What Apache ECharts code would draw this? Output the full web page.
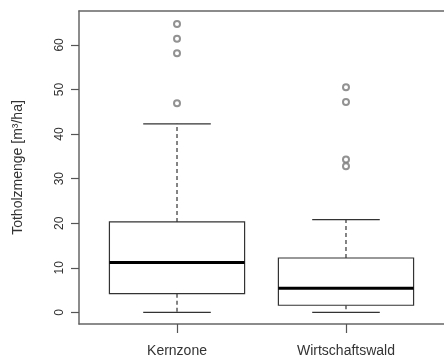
<!DOCTYPE html>
<html>
<head>
<meta charset="utf-8">
<script src="https://cdn.jsdelivr.net/npm/echarts@6/dist/echarts.min.js"></script>
<style>html,body{margin:0;padding:0;background:#fff}#c{width:444px;height:359px}</style>
</head>
<body>
<div id="c"></div>
<script>
const categories = ['Kernzone', 'Wirtschaftswald'];
const whiskerLow = [0, 0];
const q1 = [4.2, 1.6];
const median = [11.2, 5.4];
const q3 = [20.3, 12.2];
const whiskerHigh = [42.3, 20.8];
const outliers = [[64.7, 61.4, 58.1, 46.9], [50.5, 47.2, 34.3, 32.8]];
const yTicks = [0, 10, 20, 30, 40, 50, 60];
const xTicks = [1, 2];
const yName = 'Totholzmenge [m³/ha]';

const boxData = categories.map((c, i) => [i + 1, whiskerLow[i], q1[i], median[i], q3[i], whiskerHigh[i]]);
const outData = [];
outliers.forEach((arr, i) => arr.forEach(v => outData.push([i + 1, v])));

const lineCol = '#333';
function renderBox(params, api) {
  const x = api.value(0);
  const low = api.coord([x, api.value(1)]);
  const pq1 = api.coord([x, api.value(2)]);
  const pmed = api.coord([x, api.value(3)]);
  const pq3 = api.coord([x, api.value(4)]);
  const high = api.coord([x, api.value(5)]);
  const hw = api.size([0.4, 0])[0];
  const cw = api.size([0.2, 0])[0];
  const cx = low[0];
  const solid = {stroke: lineCol, lineWidth: 1.2, fill: null};
  const dashed = {stroke: lineCol, lineWidth: 1.2, lineDash: [4, 3]};
  return {
    type: 'group',
    children: [
      {type: 'line', shape: {x1: cx, y1: pq3[1], x2: cx, y2: high[1]}, style: dashed},
      {type: 'line', shape: {x1: cx, y1: pq1[1], x2: cx, y2: low[1]}, style: dashed},
      {type: 'line', shape: {x1: cx - cw, y1: high[1], x2: cx + cw, y2: high[1]}, style: solid},
      {type: 'line', shape: {x1: cx - cw, y1: low[1], x2: cx + cw, y2: low[1]}, style: solid},
      {type: 'rect', shape: {x: cx - hw, y: pq3[1], width: 2 * hw, height: pq1[1] - pq3[1]}, style: {stroke: lineCol, lineWidth: 1.2, fill: '#fff'}},
      {type: 'line', shape: {x1: cx - hw, y1: pmed[1], x2: cx + hw, y2: pmed[1]}, style: {stroke: '#000', lineWidth: 3}}
    ]
  };
}

const frameLine = {show: true, onZero: false, lineStyle: {color: '#666', width: 1.5}};
const chart = echarts.init(document.getElementById('c'), null, {renderer: 'canvas'});
chart.setOption({
  animation: false,
  backgroundColor: '#fff',
  textStyle: {fontFamily: 'Liberation Sans, Arial, sans-serif'},
  grid: {left: 79, top: 11, width: 368, height: 313, show: false},
  xAxis: [{
    type: 'value', min: 0.42, max: 2.58, position: 'bottom',
    splitLine: {show: false},
    axisLine: frameLine,
    axisTick: {show: true, customValues: xTicks, length: 9, lineStyle: {color: '#555', width: 1.2}},
    axisLabel: {show: true, customValues: xTicks, formatter: v => categories[Math.round(v) - 1], color: '#333', fontSize: 14, margin: 20}
  }, {
    type: 'value', min: 0.42, max: 2.58, position: 'top',
    splitLine: {show: false},
    axisLine: frameLine,
    axisTick: {show: false},
    axisLabel: {show: false}
  }],
  yAxis: {
    type: 'value', min: -2.6, max: 67.6,
    name: yName, nameLocation: 'middle', nameGap: 54, nameRotate: 90,
    nameTextStyle: {color: '#333', fontSize: 14},
    splitLine: {show: false},
    axisLine: frameLine,
    axisTick: {show: true, customValues: yTicks, length: 8, lineStyle: {color: '#555', width: 1.2}},
    axisLabel: {show: true, customValues: yTicks, rotate: 90, color: '#333', fontSize: 12, margin: 13}
  },
  series: [
    {type: 'custom', renderItem: renderBox, data: boxData, encode: {x: 0, y: [1, 2, 3, 4, 5]}, clip: false},
    {type: 'scatter', data: outData, symbol: 'emptyCircle', symbolSize: 6, itemStyle: {color: '#777', borderColor: '#777', borderWidth: 1}}
  ]
});
</script>
</body>
</html>
